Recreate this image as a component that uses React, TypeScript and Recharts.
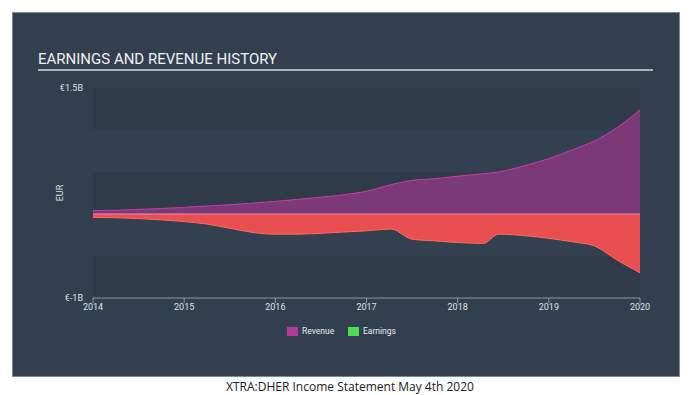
import { Area, AreaChart, ReferenceArea, ReferenceLine, XAxis, YAxis } from 'recharts';

const years = [2014, 2014.25, 2014.5, 2014.75, 2015, 2015.25, 2015.5, 2015.75, 2016, 2016.25, 2016.5, 2016.75, 2017, 2017.27, 2017.5, 2017.75, 2018, 2018.28, 2018.45, 2018.75, 2019, 2019.25, 2019.5, 2019.75, 2020];
const revenue = [0.04, 0.045, 0.055, 0.065, 0.08, 0.095, 0.11, 0.13, 0.15, 0.175, 0.2, 0.23, 0.27, 0.35, 0.4, 0.42, 0.45, 0.48, 0.5, 0.58, 0.66, 0.76, 0.87, 1.03, 1.24];
const earnings = [-0.04, -0.045, -0.055, -0.07, -0.09, -0.12, -0.17, -0.22, -0.24, -0.24, -0.23, -0.215, -0.2, -0.18, -0.3, -0.32, -0.34, -0.35, -0.24, -0.26, -0.29, -0.33, -0.38, -0.55, -0.7];
const xTicks = [2014, 2015, 2016, 2017, 2018, 2019, 2020];
const yTicks = [-1, 1.5];
const bands = [[1, 1.5], [0, 0.5], [-1, -0.5]];

const data = years.map((t, i) => ({ t, revenue: revenue[i], earnings: earnings[i] }));

const fmtY = (v: number) => (v === 1.5 ? '€1.5B' : `€${v}B`);

export default function App() {
  return (
    <div style={{ position: 'fixed', left: 0, top: 0, width: 700, height: 395, background: '#fff', fontFamily: 'Roboto, sans-serif' }}>
      <div style={{ position: 'absolute', left: 12, top: 12, width: 666, height: 363, background: '#323f4e', border: '1px solid #7d8a96' }} />
      <div style={{ position: 'absolute', left: 38, top: 50, fontSize: 15, color: '#eef0f2', letterSpacing: 0 }}>EARNINGS AND REVENUE HISTORY</div>
      <div style={{ position: 'absolute', left: 38, top: 69, width: 615, height: 1.5, background: '#aab3bc' }} />
      <div style={{ position: 'absolute', left: 52, top: 188, fontSize: 9, color: '#dde2e7', transform: 'rotate(-90deg)' }}>EUR</div>
      <div style={{ position: 'absolute', left: 0, top: 0 }}>
        <AreaChart width={700} height={395} data={data} margin={{ left: 63, right: 60, top: 88, bottom: 67 }}>
          <ReferenceArea x1={2014} x2={2020} y1={-1} y2={1.5} fill="#334050" fillOpacity={1} stroke="none" />
          {bands.map((b, i) => <ReferenceArea key={i} x1={2014} x2={2020} y1={b[0]} y2={b[1]} fill="#2f3b49" fillOpacity={1} stroke="none" />)}
          <XAxis dataKey="t" type="number" domain={[2014, 2020]} ticks={xTicks} tick={{ fontSize: 9, fill: '#dde2e7' }} stroke="#8d98a3" tickSize={5} tickMargin={1} interval={0} />
          <YAxis type="number" domain={[-1, 1.5]} ticks={yTicks} tickFormatter={fmtY} tick={{ fontSize: 9, fill: '#dde2e7' }} axisLine={false} tickLine={false} tickMargin={4} width={30} />
          <Area type="monotone" dataKey="revenue" baseValue={0} fill="#7b3977" fillOpacity={1} stroke="#c43fa6" strokeWidth={1} isAnimationActive={false} />
          <Area type="monotone" dataKey="earnings" baseValue={0} fill="#e94f50" fillOpacity={1} stroke="#ff6a64" strokeWidth={1} isAnimationActive={false} />
          <ReferenceLine y={0} stroke="#e993ad" strokeWidth={1.2} />
        </AreaChart>
      </div>
      <div style={{ position: 'absolute', left: 287, top: 327, width: 11, height: 9, background: '#b23a9e' }} />
      <div style={{ position: 'absolute', left: 302, top: 326, fontSize: 8.5, color: '#e6e9ec' }}>Revenue</div>
      <div style={{ position: 'absolute', left: 348, top: 327, width: 11, height: 9, background: '#4ede4b' }} />
      <div style={{ position: 'absolute', left: 363, top: 326, fontSize: 8.5, color: '#e6e9ec' }}>Earnings</div>
      <div style={{ position: 'absolute', left: 0, top: 378, width: 700, textAlign: 'center', fontSize: 12, color: '#222', fontFamily: '"Open Sans", sans-serif' }}>XTRA:DHER Income Statement May 4th 2020</div>
    </div>
  );
}
